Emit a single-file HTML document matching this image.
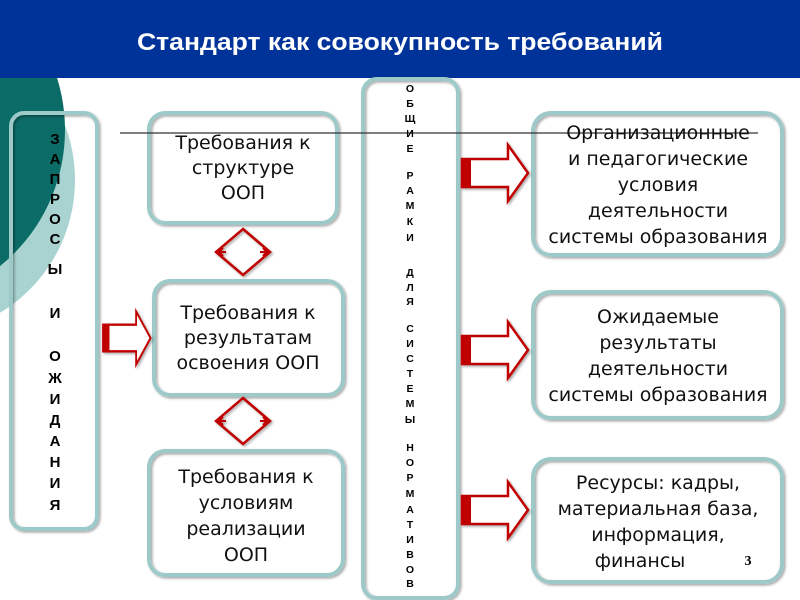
<!DOCTYPE html>
<html><head><meta charset="utf-8"><style>
html,body{margin:0;padding:0;background:#fff}
svg{display:block}
.t{font-family:"DejaVu Sans","Liberation Sans",sans-serif;font-size:19px;fill:#111;text-anchor:middle}
.v{font-family:"Liberation Sans",sans-serif;font-weight:bold;fill:#000;text-anchor:middle}
</style></head><body>
<svg width="800" height="600" viewBox="0 0 800 600">
<defs>
<filter id="sh" x="-10%" y="-10%" width="120%" height="120%"><feDropShadow dx="1.5" dy="1.5" stdDeviation="1.2" flood-color="#000" flood-opacity="0.35"/></filter>
<g id="arr"><path d="M0,-14 H46 V-28 L66,0 L46,28 V14 H0 Z" fill="#fff" stroke="#c00000" stroke-width="2.5"/><rect x="0" y="-14" width="9" height="28" fill="#c00000"/></g>
<g id="dia"><path d="M0,-23 L27,0 L0,23 L-27,0 Z" fill="none" stroke="#c00000" stroke-width="2.5"/><path d="M-26,0 H-17 M-20,-4 L-24,0 L-20,4 M26,0 H17 M20,-4 L24,0 L20,4" stroke="#c00000" stroke-width="2" fill="none"/></g>
</defs>
<circle cx="-80" cy="180" r="155" fill="#a9d3d1"/>
<circle cx="-110" cy="130" r="175" fill="#0b6b66"/>
<rect x="0" y="0" width="800" height="78" fill="#003399"/>
<text x="400" y="50" font-family="Liberation Sans,sans-serif" font-weight="bold" font-size="24" fill="#fff" text-anchor="middle" textLength="526" lengthAdjust="spacingAndGlyphs">Стандарт как совокупность требований</text>
<g fill="none" stroke="#9ec9c9" stroke-width="4" filter="url(#sh)">
<rect x="11" y="113" width="86" height="416" rx="13"/>
<rect x="149" y="113" width="188" height="110" rx="16"/>
<rect x="154" y="281" width="189" height="114" rx="16"/>
<rect x="149" y="451" width="194" height="124" rx="16"/>
<rect x="363" y="79" width="95" height="519" rx="14"/>
<rect x="533" y="113" width="249" height="142" rx="18"/>
<rect x="533" y="292" width="249" height="126" rx="18"/>
<rect x="533" y="459" width="249" height="123" rx="18"/>
</g>
<line x1="120" y1="133" x2="758" y2="133" stroke="#333" stroke-width="1.3"/>
<g class="t">
<text x="243" y="149">Требования к</text><text x="243" y="174">структуре</text><text x="243" y="199">ООП</text>
<text x="248" y="319">Требования к</text><text x="248" y="344">результатам</text><text x="248" y="369">освоения ООП</text>
<text x="246" y="483">Требования к</text><text x="246" y="509">условиям</text><text x="246" y="535">реализации</text><text x="246" y="561">ООП</text>
<text x="658" y="139">Организационные</text><text x="658" y="165">и педагогические</text><text x="658" y="191">условия</text><text x="658" y="217">деятельности</text><text x="658" y="243">системы образования</text>
<text x="658" y="323">Ожидаемые</text><text x="658" y="349">результаты</text><text x="658" y="375">деятельности</text><text x="658" y="401">системы образования</text>
<text x="658" y="489">Ресурсы: кадры,</text><text x="658" y="515">материальная база,</text><text x="658" y="541">информация,</text><text x="640" y="567">финансы</text>
</g>
<text x="748" y="565" font-family="Liberation Serif,serif" font-weight="bold" font-size="14" text-anchor="middle">3</text>
<g class="v" font-size="15">
<text x="55" y="144">З</text><text x="55" y="164">А</text><text x="55" y="184">П</text><text x="55" y="204">Р</text><text x="55" y="224">О</text><text x="55" y="244">С</text><text x="55" y="274">Ы</text>
<text x="55" y="318">И</text>
<text x="55" y="361">О</text><text x="55" y="383">Ж</text><text x="55" y="404">И</text><text x="55" y="425">Д</text><text x="55" y="446">А</text><text x="55" y="467">Н</text><text x="55" y="488">И</text><text x="55" y="510">Я</text>
</g>
<g class="v" font-size="10.5">
<text x="410" y="92">О</text><text x="410" y="107">Б</text><text x="410" y="122">Щ</text><text x="410" y="137">И</text><text x="410" y="152">Е</text>
<text x="410" y="179">Р</text><text x="410" y="194">А</text><text x="410" y="209">М</text><text x="410" y="225">К</text><text x="410" y="241">И</text>
<text x="410" y="276">Д</text><text x="410" y="291">Л</text><text x="410" y="305">Я</text>
<text x="410" y="332">С</text><text x="410" y="347">И</text><text x="410" y="362">С</text><text x="410" y="377">Т</text><text x="410" y="392">Е</text><text x="410" y="407">М</text><text x="410" y="423">Ы</text>
<text x="410" y="451">Н</text><text x="410" y="466">О</text><text x="410" y="481">Р</text><text x="410" y="497">М</text><text x="410" y="513">А</text><text x="410" y="528">Т</text><text x="410" y="543">И</text><text x="410" y="558">В</text><text x="410" y="573">О</text><text x="410" y="587">В</text>
</g>
<g filter="url(#sh)">
<use href="#arr" transform="translate(103,338) scale(0.72,0.95)"/>
<use href="#arr" transform="translate(462,173)"/>
<use href="#arr" transform="translate(462,350)"/>
<use href="#arr" transform="translate(462,510)"/>
<use href="#dia" transform="translate(243,252)"/>
<use href="#dia" transform="translate(243,421)"/>
</g>
</svg>
</body></html>
